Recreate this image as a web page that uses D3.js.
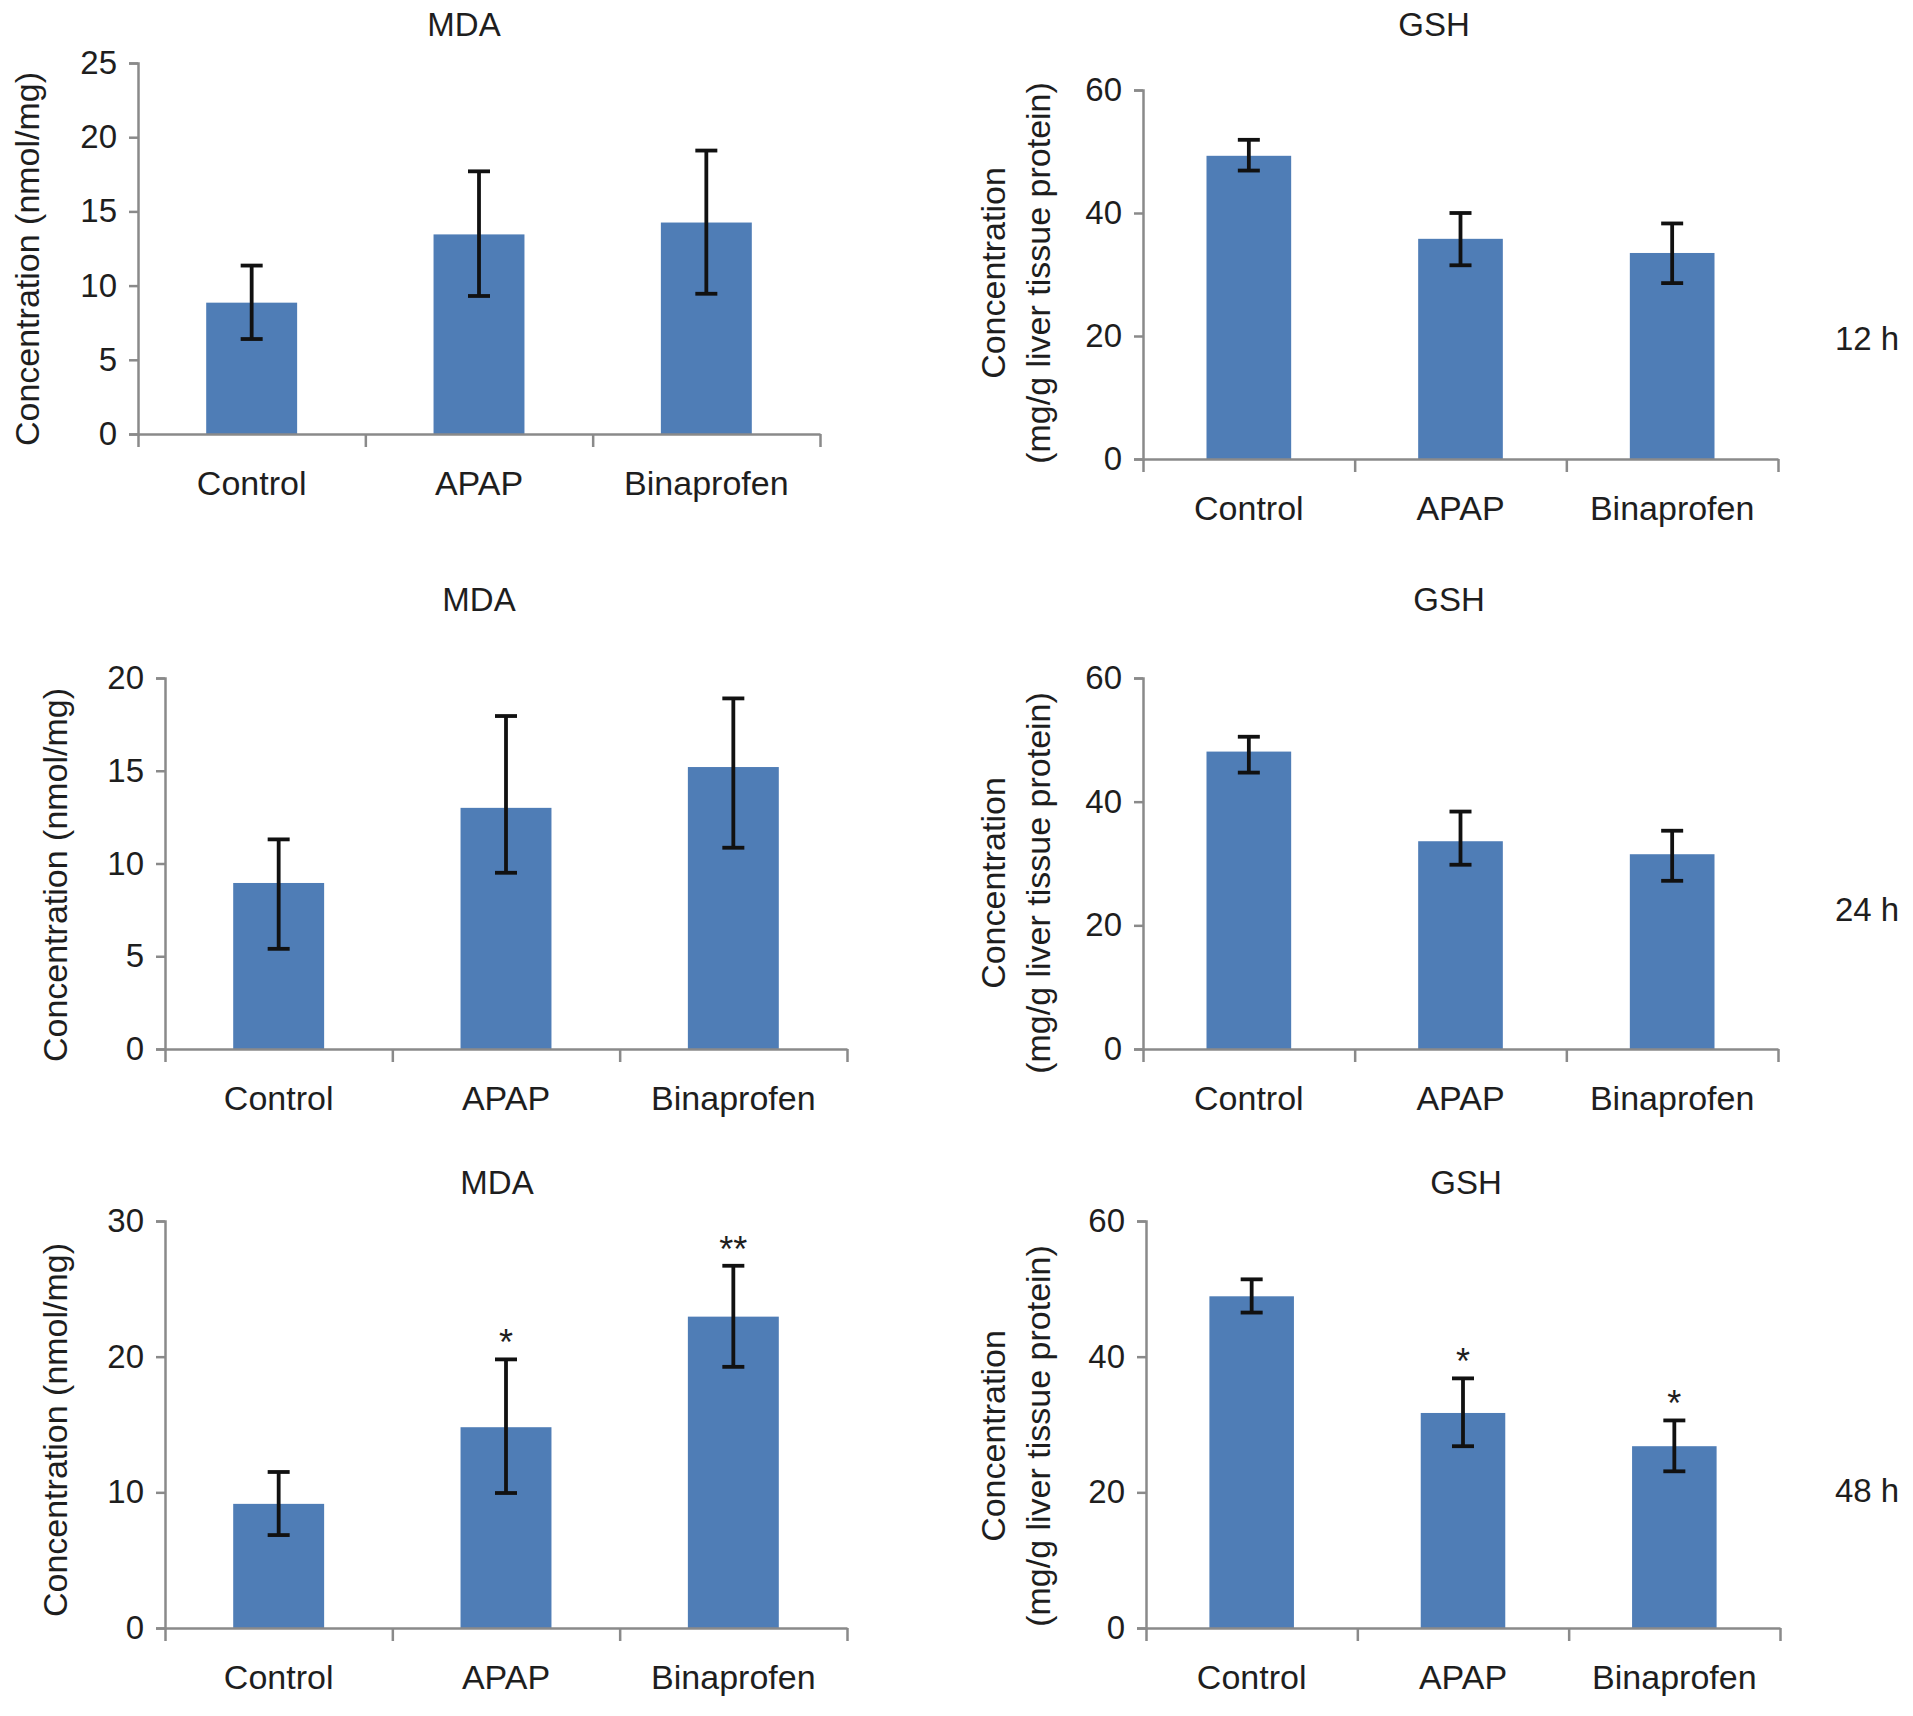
<!DOCTYPE html>
<html><head><meta charset="utf-8">
<script src="https://cdn.jsdelivr.net/npm/d3@7"></script>
<style>
html,body{margin:0;padding:0;background:#fff;}
svg{display:block;font-family:"Liberation Sans",Arial,sans-serif;}
</style></head>
<body>
<svg id="chart" width="1913" height="1716"></svg>
<script>
// ---- data ----
const categories = ["Control", "APAP", "Binaprofen"];

const mda12Mean = [8.85, 13.45, 14.25];
const mda12Low  = [6.4, 9.3, 9.45];
const mda12High = [11.35, 17.7, 19.1];

const gsh12Mean = [49.3, 35.8, 33.5];
const gsh12Low  = [46.9, 31.5, 28.6];
const gsh12High = [51.9, 40.0, 38.3];

const mda24Mean = [8.95, 13.0, 15.2];
const mda24Low  = [5.4, 9.5, 10.85];
const mda24High = [11.3, 17.95, 18.9];

const gsh24Mean = [48.1, 33.6, 31.5];
const gsh24Low  = [44.7, 29.8, 27.2];
const gsh24High = [50.5, 38.4, 35.3];

const mda48Mean = [9.15, 14.8, 22.95];
const mda48Low  = [6.85, 9.95, 19.25];
const mda48High = [11.5, 19.8, 26.7];
const mda48Sig  = ["", "*", "**"];

const gsh48Mean = [48.9, 31.7, 26.8];
const gsh48Low  = [46.5, 26.8, 23.1];
const gsh48High = [51.4, 36.8, 30.6];
const gsh48Sig  = ["", "*", "*"];

const mdaTicks12 = [0, 5, 10, 15, 20, 25];
const mdaTicks24 = [0, 5, 10, 15, 20];
const mdaTicks48 = [0, 10, 20, 30];
const gshTicks = [0, 20, 40, 60];

const timeLabels = ["12 h", "24 h", "48 h"];
const mdaTitle = "MDA", gshTitle = "GSH";
const mdaYLabel = ["Concentration (nmol/mg)"];
const gshYLabel = ["Concentration", "(mg/g liver tissue protein)"];

// ---- layout ----
const panels = [
  {title: mdaTitle, mean: mda12Mean, lo: mda12Low, hi: mda12High, sig: null, ticks: mdaTicks12,
   yl: mdaYLabel, x0: 138, x1: 820, yT: 63, yB: 434, tx: 464, ty: 24, ylx: 27, yly: 259},
  {title: gshTitle, mean: gsh12Mean, lo: gsh12Low, hi: gsh12High, sig: null, ticks: gshTicks,
   yl: gshYLabel, x0: 1143, x1: 1778, yT: 90, yB: 459, tx: 1434, ty: 24, ylx: 1016, yly: 273, time: timeLabels[0], timeY: 338},
  {title: mdaTitle, mean: mda24Mean, lo: mda24Low, hi: mda24High, sig: null, ticks: mdaTicks24,
   yl: mdaYLabel, x0: 165, x1: 847, yT: 678, yB: 1049, tx: 479, ty: 599, ylx: 55, yly: 875},
  {title: gshTitle, mean: gsh24Mean, lo: gsh24Low, hi: gsh24High, sig: null, ticks: gshTicks,
   yl: gshYLabel, x0: 1143, x1: 1778, yT: 678, yB: 1049, tx: 1449, ty: 599, ylx: 1016, yly: 883, time: timeLabels[1], timeY: 909},
  {title: mdaTitle, mean: mda48Mean, lo: mda48Low, hi: mda48High, sig: mda48Sig, ticks: mdaTicks48,
   yl: mdaYLabel, x0: 165, x1: 847, yT: 1221, yB: 1628, tx: 497, ty: 1182, ylx: 55, yly: 1430},
  {title: gshTitle, mean: gsh48Mean, lo: gsh48Low, hi: gsh48High, sig: gsh48Sig, ticks: gshTicks,
   yl: gshYLabel, x0: 1146, x1: 1780, yT: 1221, yB: 1628, tx: 1466, ty: 1182, ylx: 1016, yly: 1436, time: timeLabels[2], timeY: 1490}
];

const BAR = "#4f7db6", AXIS = "#8a8a8a", TEXT = "#1e1e1e";
const svg = d3.select("#chart");

panels.forEach(p => {
  const g = svg.append("g");
  const x = d3.scaleBand().domain(categories).range([p.x0, p.x1]).paddingInner(0.6).paddingOuter(0.3);
  const xb = d3.scaleLinear().domain([0, 3]).range([p.x0, p.x1]);
  const y = d3.scaleLinear().domain([0, d3.max(p.ticks)]).range([p.yB, p.yT]);

  // bars
  g.selectAll("rect").data(categories).join("rect")
    .attr("x", d => x(d)).attr("width", x.bandwidth())
    .attr("y", (d, i) => y(p.mean[i])).attr("height", (d, i) => y(0) - y(p.mean[i]))
    .attr("fill", BAR);

  // y axis
  const ya = g.append("g").attr("transform", `translate(${p.x0},0)`)
    .call(d3.axisLeft(y).tickValues(p.ticks).tickSize(9).tickPadding(12).tickFormat(d3.format("d")));
  ya.select(".domain").attr("stroke", AXIS).attr("stroke-width", 2.5);
  ya.selectAll(".tick line").attr("stroke", AXIS).attr("stroke-width", 2.5);
  ya.selectAll(".tick text").attr("fill", TEXT).style("font-size", "33px");

  // x axis boundary ticks
  const xa = g.append("g").attr("transform", `translate(0,${p.yB})`)
    .call(d3.axisBottom(xb).tickValues([0, 1, 2, 3]).tickSize(13).tickSizeOuter(0).tickFormat(""));
  xa.select(".domain").attr("stroke", AXIS).attr("stroke-width", 2.5);
  xa.selectAll(".tick line").attr("stroke", AXIS).attr("stroke-width", 2.5);

  // x labels
  const xl = g.append("g").attr("transform", `translate(0,${p.yB})`)
    .call(d3.axisBottom(x).tickSize(0).tickPadding(37));
  xl.select(".domain").remove();
  xl.selectAll(".tick text").attr("fill", TEXT).style("font-size", "34px");

  // error bars
  const cap = 11;
  const eb = g.append("g").attr("stroke", "#111").attr("stroke-width", 3.8);
  categories.forEach((c, i) => {
    const cx = x(c) + x.bandwidth() / 2;
    eb.append("line").attr("x1", cx).attr("x2", cx).attr("y1", y(p.lo[i])).attr("y2", y(p.hi[i]));
    eb.append("line").attr("x1", cx - cap).attr("x2", cx + cap).attr("y1", y(p.hi[i])).attr("y2", y(p.hi[i]));
    eb.append("line").attr("x1", cx - cap).attr("x2", cx + cap).attr("y1", y(p.lo[i])).attr("y2", y(p.lo[i]));
    if (p.sig && p.sig[i]) {
      g.append("text").attr("x", cx).attr("y", y(p.hi[i]) - 4).attr("text-anchor", "middle")
        .attr("fill", TEXT).style("font-size", "36px").text(p.sig[i]);
    }
  });

  // title
  g.append("text").attr("x", p.tx).attr("y", p.ty).attr("dy", "0.35em").attr("text-anchor", "middle")
    .attr("fill", TEXT).style("font-size", "33px").text(p.title);

  // y label
  const n = p.yl.length;
  p.yl.forEach((t, k) => {
    g.append("text")
      .attr("transform", `translate(${p.ylx + (k - (n - 1) / 2) * 45},${p.yly}) rotate(-90)`)
      .attr("text-anchor", "middle").attr("dy", "0.35em")
      .attr("fill", TEXT).style("font-size", "34px").text(t);
  });

  if (p.time) {
    g.append("text").attr("x", 1867).attr("y", p.timeY).attr("dy", "0.35em").attr("text-anchor", "middle")
      .attr("fill", TEXT).style("font-size", "33px").text(p.time);
  }
});
</script>
</body></html>
